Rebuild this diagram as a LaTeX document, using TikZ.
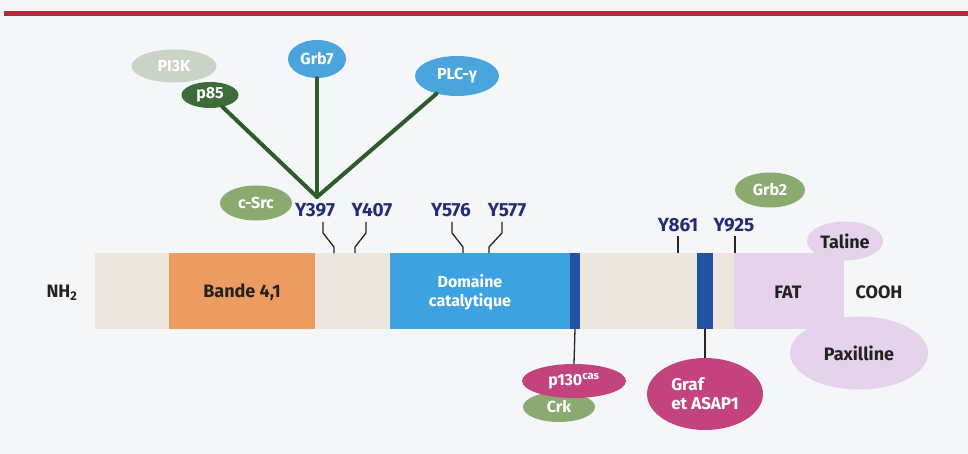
\documentclass[tikz,border=0pt]{standalone}
\usepackage{fontspec}
\setmainfont{Fira Sans}
\usetikzlibrary{shapes.geometric}
\definecolor{bgcol}{HTML}{F4F6F8}
\definecolor{redline}{HTML}{B3283D}
\definecolor{beige}{HTML}{EDE6DC}
\definecolor{orangebox}{HTML}{EE9B60}
\definecolor{bluebox}{HTML}{3DA3E0}
\definecolor{darkstrip}{HTML}{2252A6}
\definecolor{lilac}{HTML}{E4D3EA}
\definecolor{navy}{HTML}{262C74}
\definecolor{linkgreen}{HTML}{2F5A2B}
\definecolor{pigrey}{HTML}{C9D4C6}
\definecolor{darkgreen}{HTML}{3D6B3A}
\definecolor{midgreen}{HTML}{8AAA6F}
\definecolor{skyblue}{HTML}{4AA5DD}
\definecolor{magenta}{HTML}{C2437E}
\definecolor{textdark}{HTML}{222222}
\begin{document}
\begin{tikzpicture}[x=1pt,y=-1pt,
  ell/.style={ellipse, inner sep=0pt, text=white, font=\fontsize{16}{17}\selectfont\bfseries},
  seg/.style={rectangle, inner sep=0pt, draw=none},
  lab/.style={text=navy, font=\fontsize{19}{20}\selectfont\bfseries},
  txt/.style={text=textdark, font=\fontsize{18}{19}\selectfont\bfseries},
  tickline/.style={draw=black!85, line width=1.3pt},
  link/.style={draw=linkgreen, line width=4pt},
  stem/.style={draw=black!85, line width=1.3pt}]
\fill[bgcol] (0,0) rectangle (968,454);
\useasboundingbox (0,0) rectangle (968,454);
\fill[redline] (4,11) rectangle (968,16);

% protein bar
\node[seg, fill=beige, minimum width=640pt, minimum height=76pt] (bar) at (415,291) {};
\node[seg, fill=orangebox, minimum width=146pt, minimum height=76pt] (bande) at (242,291) {};
\node[txt] (bandetxt) at (242,292) {Bande 4,1};
\node[seg, fill=bluebox, minimum width=190pt, minimum height=76pt] (cat) at (485,291) {};
\node[txt, text=white, align=center, font=\fontsize{16}{19}\selectfont\bfseries] (cattxt) at (470,292) {Domaine\\catalytique};
\node[seg, fill=darkstrip, minimum width=10pt, minimum height=76pt] (strip1) at (575,291) {};
\node[seg, fill=darkstrip, minimum width=16pt, minimum height=76pt] (strip2) at (705,291) {};
\node[seg, fill=lilac, minimum width=110pt, minimum height=76pt] (fat) at (789,291) {};
\node[txt] (fattxt) at (788,292) {FAT};
\node[txt] (nh2) at (62,293) {NH\textsubscript{2}};
\node[txt] (cooh) at (879,292) {COOH};

% FAT partners
\node[ell, fill=lilac, text=textdark, minimum width=76pt, minimum height=39pt, font=\fontsize{18}{19}\selectfont\bfseries] (taline) at (845,241) {Taline};
\node[ell, fill=lilac, text=textdark, minimum width=138pt, minimum height=73pt, font=\fontsize{18}{19}\selectfont\bfseries] (paxilline) at (859,353) {Paxilline};
\node[ell, fill=midgreen, minimum width=70pt, minimum height=35pt] (grb2) at (770,190) {Grb2};

% tyrosine labels
\node[lab] (y397) at (315,210) {Y397};
\node[lab] (y407) at (372,210) {Y407};
\node[lab] (y576) at (451,210) {Y576};
\node[lab] (y577) at (507,210) {Y577};
\node[lab] (y861) at (678,225) {Y861};
\node[lab] (y925) at (734,225) {Y925};

% ticks
\coordinate (a397) at (323,222);
\coordinate (a407) at (366,222);
\coordinate (a576) at (452,222);
\coordinate (a577) at (502,222);
\draw[tickline] (a397) -- ++(0,11) -- ++(11,14) -- ++(0,6);
\draw[tickline] (a407) -- ++(0,11) -- ++(-11,14) -- ++(0,6);
\draw[tickline] (a576) -- ++(0,11) -- ++(11,14) -- ++(0,6);
\draw[tickline] (a577) -- ++(0,11) -- ++(-13,14) -- ++(0,6);
\coordinate (a861) at (678,236);
\coordinate (a925) at (735,236);
\draw[tickline] (a861) -- ++(0,17);
\draw[tickline] (a925) -- ++(0,17);

% upper partners
\node[ell, fill=pigrey, minimum width=85pt, minimum height=33pt] (pi3k) at (174,66) {PI3K};
\node[ell, fill=darkgreen, minimum width=57pt, minimum height=26pt] (p85) at (210,95) {p85};
\node[ell, fill=skyblue, minimum width=58pt, minimum height=38pt] (grb7) at (317,59) {Grb7};
\node[ell, fill=skyblue, minimum width=84pt, minimum height=40pt] (plc) at (457,76) {PLC-γ};
\node[ell, fill=midgreen, minimum width=72pt, minimum height=35pt] (csrc) at (256,203) {c-Src};
\coordinate (hub) at (317,197);
\draw[link, line cap=round] (hub) -- (p85);
\draw[link, line cap=round] (hub) -- (grb7);
\draw[link, line cap=round] (hub) -- (plc);

% lower partners
\node[ell, fill=midgreen, minimum width=72pt, minimum height=30pt] (crk) at (559,407) {Crk};
\node[ell, fill=magenta, minimum width=104pt, minimum height=34pt] (p130) at (574,381) {p130\textsuperscript{cas}};
\node[ell, fill=magenta, minimum width=116pt, minimum height=72pt, align=left, font=\fontsize{17}{19}\selectfont\bfseries] (graf) at (705,394) {Graf\\et ASAP1};
\draw[stem] (strip1.south) -- (p130.north);
\draw[stem] (strip2.south) -- (graf.north);
\end{tikzpicture}
\end{document}
